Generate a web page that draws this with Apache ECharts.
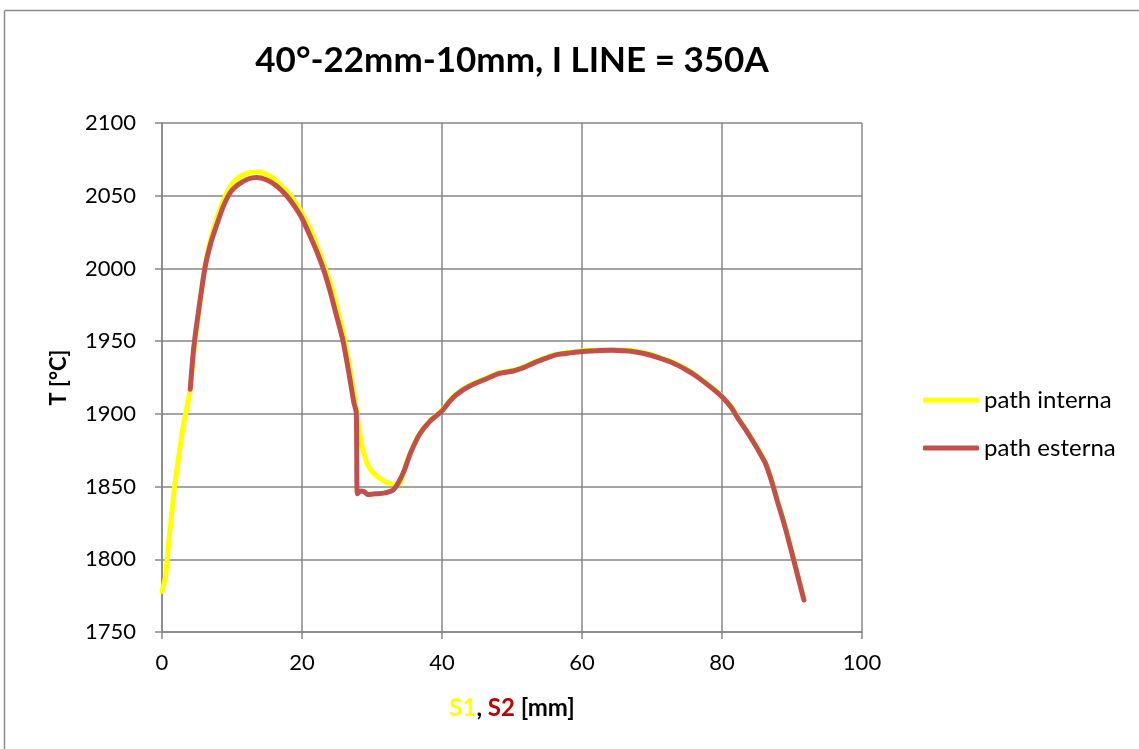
<!DOCTYPE html>
<html>
<head>
<meta charset="utf-8">
<script src="https://cdn.jsdelivr.net/npm/echarts@6/dist/echarts.min.js"></script>
<style>
  html, body { margin: 0; padding: 0; background: #fff; overflow: hidden; }
  #chart { width: 1139px; height: 749px; display: block; }
</style>
</head>
<body>
<div id="chart"></div>
<script>
// Temperature along the inner path (S1)
const interna = [
  [0, 1778], [0.5, 1788], [0.95, 1811], [1.4, 1832], [1.8, 1850], [2.4, 1871],
  [2.95, 1889], [3.5, 1903], [4.0, 1916], [4.6, 1945], [5.3, 1972], [6.2, 2003],
  [7.0, 2021], [7.8, 2034], [8.7, 2046], [9.7, 2056], [10.9, 2062.5], [12.2, 2065.5],
  [13.5, 2066.5], [14.9, 2065], [16.3, 2060.5], [17.8, 2053.5], [19.0, 2046], [20.0, 2038],
  [21.2, 2027], [22.2, 2015], [23.2, 2002], [24.2, 1988], [25.1, 1971], [26.0, 1953],
  [26.8, 1932], [27.5, 1912], [27.9, 1898], [28.4, 1882], [28.9, 1872], [29.4, 1865],
  [30.1, 1860], [30.8, 1857], [31.7, 1854], [32.7, 1852], [33.5, 1851.5], [34.1, 1853],
  [34.6, 1861.5], [35.5, 1873.5], [36.8, 1886.5], [38.3, 1895.5], [40.0, 1902.5], [41.0, 1908.5],
  [42.0, 1913.5], [43.9, 1919.5], [46.3, 1924.5], [48.2, 1928.3], [50.2, 1930], [51.5, 1932],
  [53.4, 1936], [55.0, 1939], [56.3, 1941], [57.7, 1942], [59.0, 1942.8], [60.6, 1943.5],
  [62.5, 1944.1], [64.4, 1944.3], [66.0, 1943.9], [67.7, 1943.1], [69.3, 1941.5], [71.0, 1939],
  [73.0, 1935.5], [74.8, 1931], [76.3, 1926.5], [77.6, 1921.8], [79.0, 1916.5], [80.0, 1912.2],
  [81.3, 1905], [82.4, 1896.5], [83.4, 1889.5], [84.3, 1882.5], [85.3, 1874.5], [86.2, 1866.5],
  [87.2, 1852.5], [87.9, 1840.5], [88.6, 1829.5], [89.3, 1817.5], [90.0, 1804.5], [90.8, 1789.5],
  [91.7, 1772.5]
];

// Temperature along the outer path (S2)
const esterna = [
  [4.04, 1917], [4.5, 1944], [5.2, 1970], [6.16, 2001], [7.0, 2018], [7.82, 2030],
  [8.7, 2042], [9.72, 2052], [11.0, 2058], [12.3, 2061.5], [13.5, 2062.5], [14.9, 2061],
  [16.3, 2057], [17.8, 2050], [18.9, 2043], [19.94, 2035], [21.0, 2024], [22.08, 2012],
  [23.1, 1999], [23.98, 1985], [24.9, 1968], [25.87, 1950], [26.7, 1928], [27.4, 1908],
  [27.75, 1901], [27.82, 1870], [27.9, 1845], [28.4, 1847], [28.9, 1846.5], [29.4, 1844.5],
  [30.5, 1845], [31.7, 1845.5], [32.5, 1846.5], [33.1, 1848], [33.8, 1853], [34.6, 1861],
  [35.5, 1873], [36.8, 1886], [38.3, 1895], [40.0, 1902], [41.0, 1908], [42.0, 1913],
  [43.9, 1919], [46.3, 1924], [48.2, 1927.8], [50.2, 1929.5], [51.5, 1931.5], [53.4, 1935.6],
  [55.0, 1938.5], [56.3, 1940.6], [57.7, 1941.5], [59.0, 1942.3], [60.6, 1943], [62.5, 1943.6],
  [64.4, 1943.8], [66.0, 1943.4], [67.7, 1942.6], [69.3, 1941], [71.0, 1938.5], [73.0, 1935],
  [74.8, 1930.5], [76.3, 1926], [77.6, 1921.3], [79.0, 1916], [80.0, 1911.7], [81.3, 1904.5],
  [82.4, 1896], [83.4, 1889], [84.3, 1882], [85.3, 1874], [86.2, 1866], [87.2, 1852],
  [87.9, 1840], [88.6, 1829], [89.3, 1817], [90.0, 1804], [90.8, 1789], [91.7, 1772]
];

const seriesNames = ['path interna', 'path esterna'];
const chartTitle = '40°-22mm-10mm, I LINE = 350A';
const xRange = [0, 100, 20];
const yRange = [1750, 2100, 50];

const FONT = 'Lato, "Open Sans", sans-serif';
const GRID_COLOR = '#878787';
const FRAME = { stroke: '#8c8c8c', lineWidth: 1.5 };

const chart = echarts.init(document.getElementById('chart'), null, { renderer: 'canvas' });

chart.setOption({
  backgroundColor: '#ffffff',
  animation: false,
  graphic: [
    // outer chart frame: top and left edges
    { type: 'line', shape: { x1: 4.5, y1: 10.5, x2: 1139, y2: 10.5 }, style: FRAME, silent: true },
    { type: 'line', shape: { x1: 4.5, y1: 10.5, x2: 4.5, y2: 749 }, style: FRAME, silent: true },
    {
      type: 'text',
      x: 512,
      y: 61,
      style: {
        text: chartTitle,
        font: 'bold 35px ' + FONT,
        fill: '#000',
        align: 'center',
        verticalAlign: 'middle'
      }
    }
  ],
  grid: { left: 162, right: 277, top: 123, bottom: 117, containLabel: false },
  legend: {
    orient: 'vertical',
    left: 923,
    top: 388,
    padding: 0,
    itemWidth: 56,
    itemHeight: 5,
    itemGap: 24,
    icon: 'roundRect',
    data: seriesNames,
    textStyle: { fontFamily: FONT, fontSize: 24, color: '#000', lineHeight: 24 }
  },
  xAxis: {
    type: 'value',
    min: xRange[0], max: xRange[1], interval: xRange[2],
    name: '{a|S1}{b|, }{c|S2}{b| [mm]}',
    nameLocation: 'middle',
    nameGap: 64,
    nameTextStyle: {
      rich: {
        a: { fontFamily: FONT, fontWeight: 'bold', fontSize: 24, color: '#ffff00' },
        b: { fontFamily: FONT, fontWeight: 'bold', fontSize: 24, color: '#000' },
        c: { fontFamily: FONT, fontWeight: 'bold', fontSize: 24, color: '#c00000' }
      }
    },
    axisLine: { show: true, lineStyle: { color: GRID_COLOR, width: 1.5 } },
    axisTick: { show: true, length: 7, lineStyle: { color: GRID_COLOR, width: 1.5 } },
    axisLabel: { fontFamily: FONT, fontSize: 22, color: '#000', margin: 20 },
    splitLine: { show: true, lineStyle: { color: GRID_COLOR, width: 1.5 } }
  },
  yAxis: {
    type: 'value',
    min: yRange[0], max: yRange[1], interval: yRange[2],
    name: 'T [°C]',
    nameLocation: 'middle',
    nameGap: 92,
    nameRotate: 90,
    nameTextStyle: { fontFamily: FONT, fontWeight: 'bold', fontSize: 22, color: '#000' },
    axisLine: { show: true, lineStyle: { color: GRID_COLOR, width: 1.5 } },
    axisTick: { show: true, length: 7, lineStyle: { color: GRID_COLOR, width: 1.5 } },
    axisLabel: {
      fontFamily: FONT, fontSize: 22, color: '#000', margin: 26,
      formatter: function (v) { return String(v); }
    },
    splitLine: { show: true, lineStyle: { color: GRID_COLOR, width: 1.5 } }
  },
  series: [
    {
      name: seriesNames[0],
      type: 'line',
      data: interna,
      showSymbol: false,
      symbol: 'none',
      smooth: 0.2,
      itemStyle: { color: '#ffff00' },
      lineStyle: { color: '#ffff00', width: 5, cap: 'round', join: 'round' },
      z: 2
    },
    {
      name: seriesNames[1],
      type: 'line',
      data: esterna,
      showSymbol: false,
      symbol: 'none',
      smooth: 0.2,
      itemStyle: { color: '#c0504d' },
      lineStyle: { color: '#c0504d', width: 5, cap: 'round', join: 'round' },
      z: 3
    }
  ]
});
</script>
</body>
</html>
